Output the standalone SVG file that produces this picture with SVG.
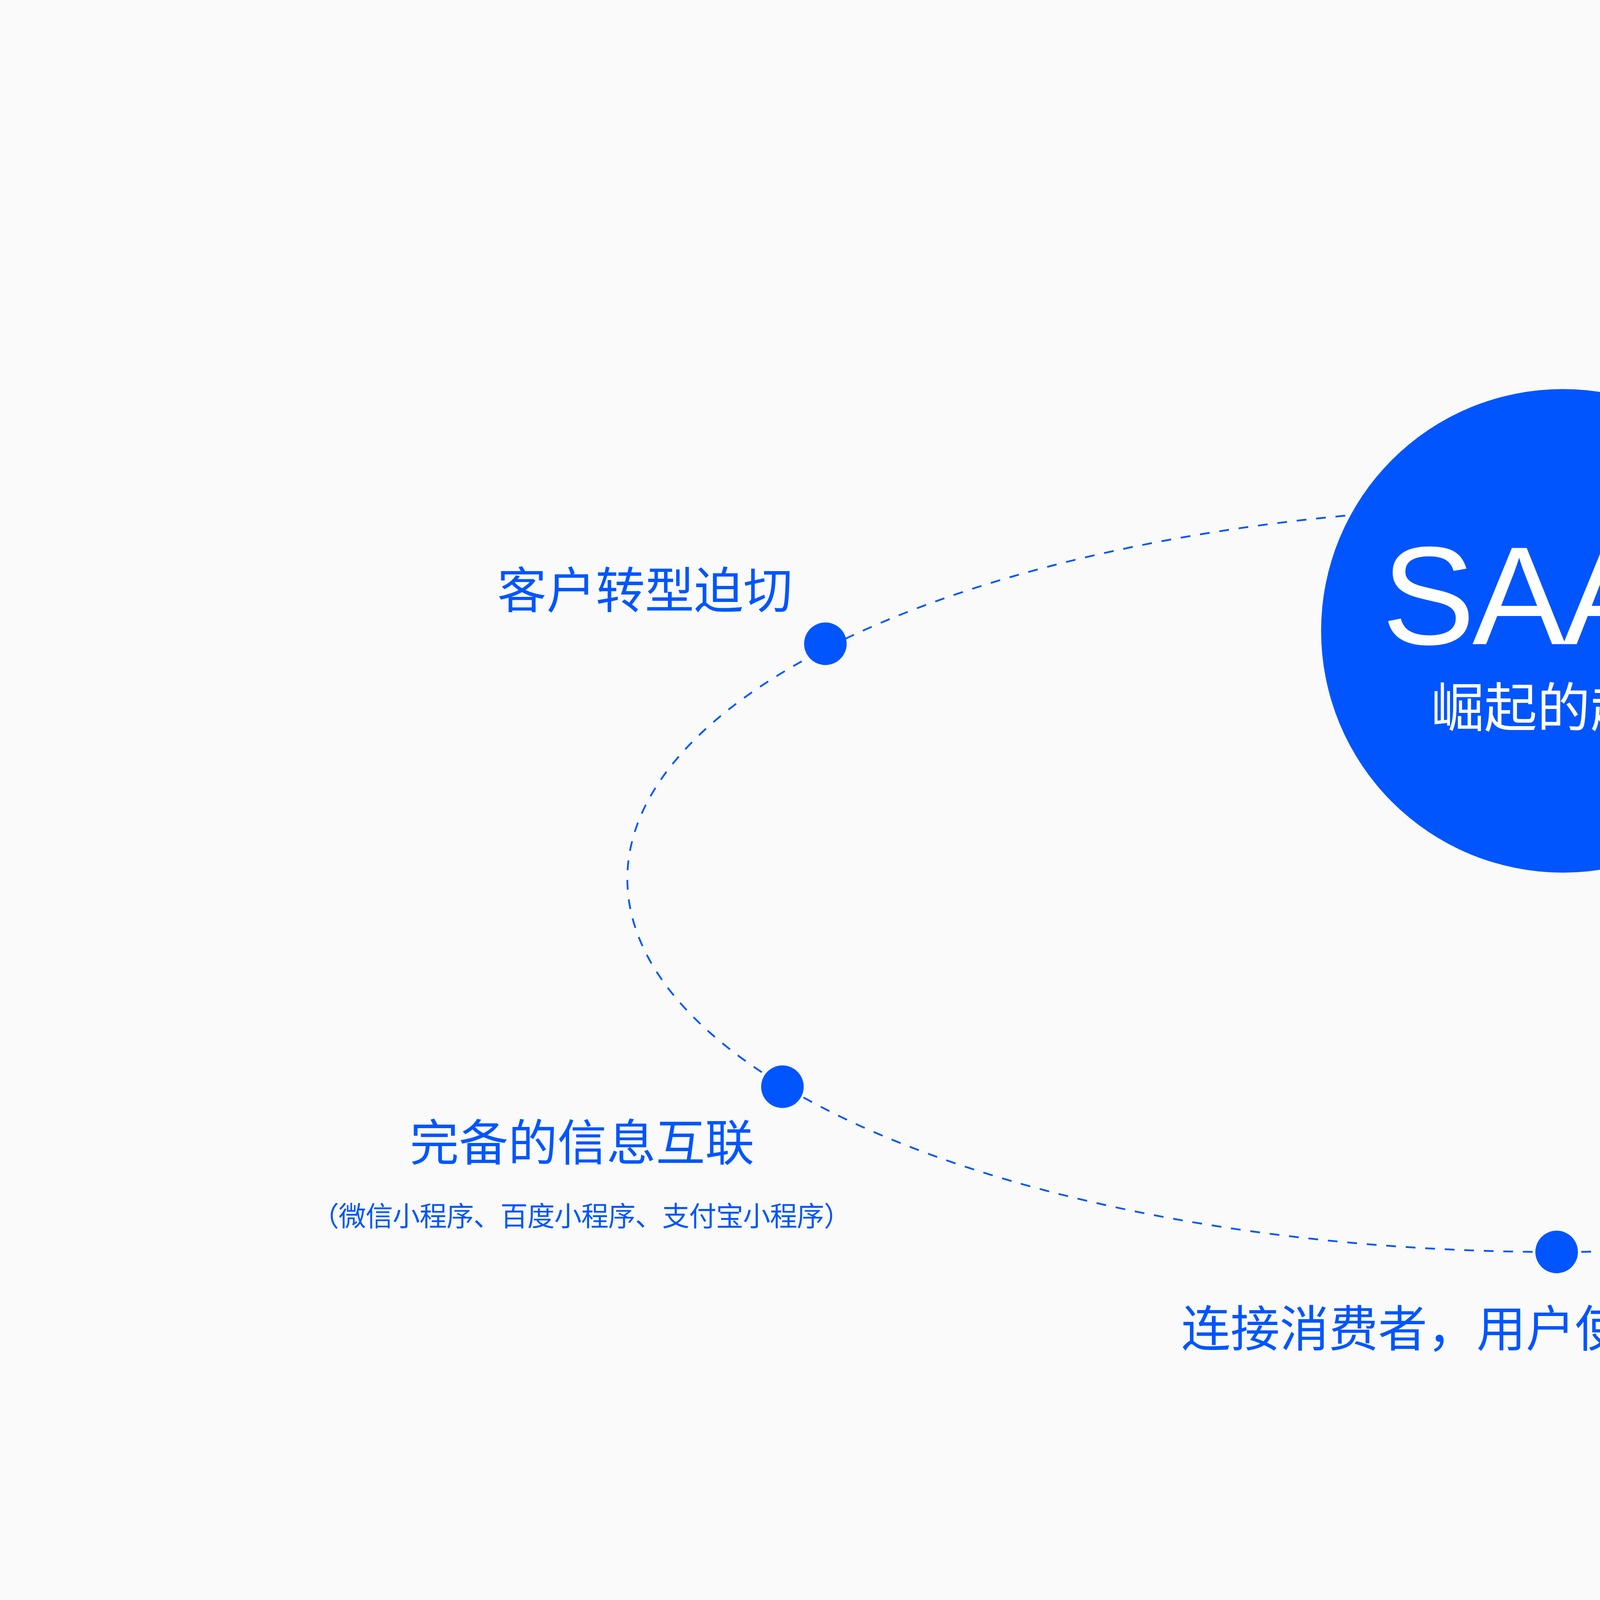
<svg xmlns="http://www.w3.org/2000/svg" width="8000" height="4501" viewBox="0 0 8000 4501">
<style>
.bg{fill:#FAFAFA}
.orbit{fill:none;stroke:#0055FF;stroke-width:4.5;stroke-dasharray:25 25}
.dot{fill:#0055FF}
.hub{fill:#0055FF}
.lbl{font-family:"Noto Sans CJK SC","Noto Sans",sans-serif;font-size:126px;fill:#0055FF;text-anchor:middle}
.sub{font-family:"Noto Sans CJK SC","Noto Sans",sans-serif;font-size:70px;fill:#0055FF;text-anchor:middle;letter-spacing:-1px}
.title{font-family:"Liberation Sans",Arial,sans-serif;font-size:358px;fill:#FFFFFF;text-anchor:middle;letter-spacing:-7px}
.subtitle{font-family:"Noto Sans CJK SC","Noto Sans",sans-serif;font-size:136px;fill:#FFFFFF;text-anchor:middle}
</style>
<rect class="bg" x="0" y="0" width="8000" height="4501"/>
<g id="connectors">
<ellipse class="orbit" cx="3984.5" cy="2250" rx="2378.5" ry="955"/>
</g>
<g id="node-center">
<circle class="hub" cx="4001" cy="1615" r="619"/>
<text class="title" x="4001" y="1649">SAAS</text>
<text class="subtitle" x="4003" y="1861">崛起的趋势</text>
</g>
<g id="node-transform">
<circle class="dot" cx="2113" cy="1648" r="54.5"/>
<text class="lbl" x="1651" y="1557">客户转型迫切</text>
</g>
<g id="node-china-market">
<circle class="dot" cx="5350" cy="1471" r="54.5"/>
<text class="lbl" x="6478" y="1355">独特的中国市场，避免与海外具体竞争</text>
</g>
<g id="node-info">
<circle class="dot" cx="2003" cy="2782" r="54.5"/>
<text class="lbl" x="1490" y="2971">完备的信息互联</text>
<text class="sub" x="1488" y="3139">（微信小程序、百度小程序、支付宝小程序）</text>
</g>
<g id="node-experience">
<circle class="dot" cx="5885" cy="2836" r="54.5"/>
<text class="lbl" x="6576" y="3023">当今成熟的互联网经验</text>
</g>
<g id="node-consumers">
<circle class="dot" cx="3985" cy="3205" r="54.5"/>
<text class="lbl" x="4032" y="3447">连接消费者，用户使用习惯高度统一</text>
</g>
</svg>
